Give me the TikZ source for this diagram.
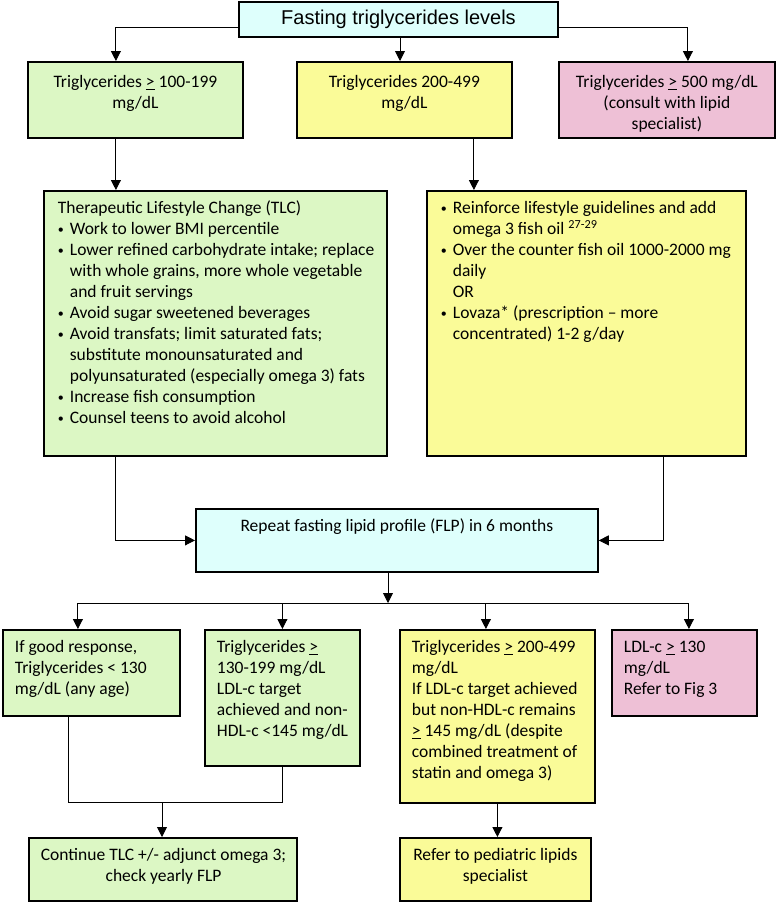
\documentclass[tikz,border=0pt]{standalone}
\usepackage{fontspec}
\setmainfont{Carlito}
\newfontfamily\titlefont{Liberation Sans}
\usepackage{tikz}
\usepackage{xcolor}
\usetikzlibrary{arrows.meta,positioning,calc}
\definecolor{tlcgreen}{RGB}{220,247,196}
\definecolor{oilyellow}{RGB}{250,251,152}
\definecolor{refpink}{RGB}{238,192,214}
\definecolor{flpcyan}{RGB}{222,255,252}

% text block of a box: width, height, lines (top aligned)
\newcommand{\ccell}[3]{\parbox[c][\dimexpr #2pt-16pt\relax][t]{\dimexpr #1pt-24pt\relax}{\centering\begin{tabular}[t]{@{}c@{}}#3\end{tabular}}}
\newcommand{\tcell}[3]{\parbox[c][\dimexpr #2pt-16pt\relax][t]{\dimexpr #1pt-24pt\relax}{\vspace*{3pt}\centering\begin{tabular}[t]{@{}c@{}}#3\end{tabular}}}
\newcommand{\lcell}[3]{\parbox[c][\dimexpr #2pt-16pt\relax][t]{\dimexpr #1pt-24pt\relax}{\begin{tabular}[t]{@{}l@{}}#3\end{tabular}}}
\newcommand{\wcell}[3]{\parbox[c][\dimexpr #2pt-16pt\relax][t]{\dimexpr #1pt-28pt\relax}{\raggedright\rightskip=0pt plus 1fil minus 25pt #3}}
\newcommand{\bitem}[1]{\par\leftskip=12pt\noindent\llap{\hbox to 12pt{{\fontsize{12}{12}\selectfont\raisebox{1pt}{\textbullet}}\hfil}}\strut #1}
\newcommand{\gtu}{\underline{>}}

\tikzset{
    box/.style={draw, line width=1.8pt, anchor=north west, inner xsep=12pt, inner ysep=8pt,
        font=\fontsize{17.5}{21}\selectfont},
    wbox/.style={box, inner xsep=14pt},
    conn/.style={line width=0.9pt},
    arr/.style={conn, -{Triangle[width=10pt,length=10pt]}}
}

\begin{document}
\begin{tikzpicture}[x=1pt, y=-1pt]
    \useasboundingbox (0,0) rectangle (776,902);

    % Start
    \node[box, fill=flpcyan, anchor=center, minimum width=319pt, minimum height=35pt, inner sep=0pt,
        font=\titlefont\fontsize{20}{22}\selectfont] (start) at (398.5,19.5) {Fasting triglycerides levels};

    % Triglyceride levels
    \node[box, fill=tlcgreen] (tglow) at (27,61)
        {\tcell{215}{76}{Triglycerides \gtu{} 100-199\\mg/dL}};
    \node[box, fill=oilyellow] (tgmid) at (296,61)
        {\tcell{215}{76}{Triglycerides 200-499\\mg/dL}};
    \node[box, fill=refpink] (tghigh) at (558,61)
        {\tcell{216}{76}{Triglycerides \gtu{} 500 mg/dL\\(consult with lipid\\specialist)}};

    % Treatment
    \node[wbox, fill=tlcgreen] (tlc) at (43,190)
        {\wcell{343}{265}{\strut Therapeutic Lifestyle Change (TLC)
        \bitem{Work to lower BMI percentile}
        \bitem{Lower refined carbohydrate intake; replace\\with whole grains, more whole vegetable\\and fruit servings}
        \bitem{Avoid sugar sweetened beverages}
        \bitem{Avoid transfats; limit saturated fats;\\substitute monounsaturated and\\polyunsaturated (especially omega 3) fats}
        \bitem{Increase fish consumption}
        \bitem{Counsel teens to avoid alcohol}}};
    \node[wbox, fill=oilyellow] (fishoil) at (426,190)
        {\wcell{319}{265}{%
        \bitem{Reinforce lifestyle guidelines and add\\omega 3 fish oil \textsuperscript{27-29}}
        \bitem{Over the counter fish oil 1000-2000 mg\\daily\\OR}
        \bitem{Lovaza* (prescription -- more\\concentrated) 1-2 g/day}}};

    % Follow-up
    \node[box, fill=flpcyan] (flp) at (195,508)
        {\ccell{402}{63}{Repeat fasting lipid profile (FLP) in 6 months}};

    % Response
    \node[box, fill=tlcgreen] (good) at (2,629)
        {\lcell{177}{86}{If good response,\\Triglycerides < 130\\mg/dL (any age)}};
    \node[box, fill=tlcgreen] (tgborder) at (204,629)
        {\lcell{155}{136}{Triglycerides \gtu\\130-199 mg/dL\\LDL-c target\\achieved and non-\\HDL-c <145 mg/dL}};
    \node[box, fill=oilyellow] (nonhdl) at (399,629)
        {\lcell{195}{173}{Triglycerides \gtu{} 200-499\\mg/dL\\If LDL-c target achieved\\but non-HDL-c remains\\\gtu{} 145 mg/dL (despite\\combined treatment of\\statin and omega 3)}};
    \node[box, fill=refpink] (ldl) at (611,629)
        {\lcell{145}{86}{LDL-c \gtu{} 130\\mg/dL\\Refer to Fig 3}};

    % Outcome
    \node[box, fill=tlcgreen] (cont) at (28,837)
        {\ccell{268}{63}{Continue TLC +/- adjunct omega 3;\\check yearly FLP}};
    \node[box, fill=oilyellow] (refer) at (399,837)
        {\ccell{191}{63}{Refer to pediatric lipids\\specialist}};

    \coordinate (bus) at (388,603);
    \coordinate (merge) at (162,802);

    % Connectors
    \draw[arr] ([yshift=-8pt]start.west) -| ([xshift=-19.5pt]tglow.north);
    \draw[arr] (start.south -| 400,0) -- (tgmid.north -| 400,0);
    \draw[arr] ([yshift=-8pt]start.east) -| ([xshift=21pt]tghigh.north);
    \draw[arr] ([xshift=-19.5pt]tglow.south) -- ([xshift=-19.5pt]tglow.south |- tlc.north);
    \draw[arr] ([xshift=69.5pt]tgmid.south) -- ([xshift=69.5pt]tgmid.south |- fishoil.north);
    \draw[arr] ([xshift=-99.5pt]tlc.south) |- (flp.west);
    \draw[arr] ([xshift=77.5pt]fishoil.south) |- (flp.east);
    \draw[arr] (flp.south -| bus) -- (bus);
    \draw[conn] ([xshift=-13.5pt]good.north |- bus) -- ([xshift=4.5pt]ldl.north |- bus);
    \draw[arr] ([xshift=-13.5pt]good.north |- bus) -- ([xshift=-13.5pt]good.north);
    \draw[arr] (tgborder.north |- bus) -- (tgborder.north);
    \draw[arr] ([xshift=-11.5pt]nonhdl.north |- bus) -- ([xshift=-11.5pt]nonhdl.north);
    \draw[arr] ([xshift=4.5pt]ldl.north |- bus) -- ([xshift=4.5pt]ldl.north);
    \draw[conn] ([xshift=-22.5pt]good.south) |- (merge) -| (tgborder.south);
    \draw[arr] (merge) -- (merge |- cont.north);
    \draw[arr] (nonhdl.south) -- (nonhdl.south |- refer.north);
\end{tikzpicture}
\end{document}
